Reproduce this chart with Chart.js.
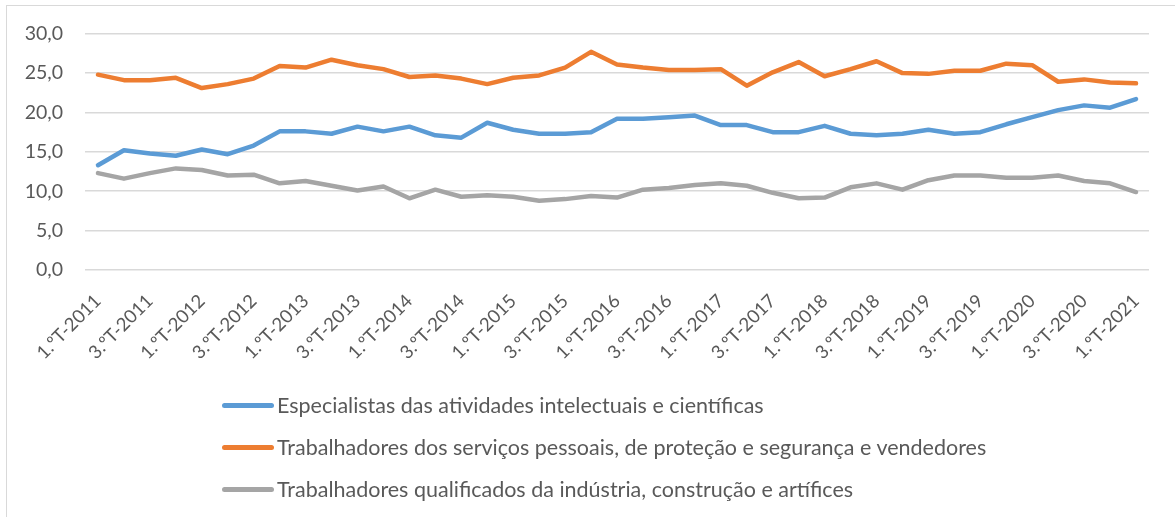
<!DOCTYPE html>
<html lang="pt">
<head>
<meta charset="utf-8">
<script src="https://cdn.jsdelivr.net/npm/chart.js@4.4.1/dist/chart.umd.min.js"></script>
<style>
  html, body { margin: 0; padding: 0; background: #fff; overflow: hidden; }
  body { width: 1175px; height: 517px; position: relative; font-family: Lato, "Open Sans", sans-serif; }
  .frame { position: absolute; left: 6px; top: 5px; width: 1200px; height: 540px; border: 1px solid #d9d9d9; }
  #wrap { position: absolute; left: 0; top: 0; width: 1175px; height: 390px; }
  .legend { position: absolute; left: 222px; top: 384px; }
  .legend-item { height: 42px; display: flex; align-items: center; }
  .legend-line { width: 52px; height: 5px; border-radius: 3px; margin-right: 3px; }
  .legend-text { font-size: 21.5px; color: #595959; white-space: nowrap; }
</style>
</head>
<body>
<div class="frame"></div>
<div id="wrap"><canvas id="chart-ocupacoes"></canvas></div>
<div class="legend" id="legend"></div>

<script>
// ============================================================
// Dados - percentagem por grupo profissional (trimestral)
// ============================================================

const trimestres = [
  "1.ºT-2011", "2.ºT-2011", "3.ºT-2011", "4.ºT-2011",
  "1.ºT-2012", "2.ºT-2012", "3.ºT-2012", "4.ºT-2012",
  "1.ºT-2013", "2.ºT-2013", "3.ºT-2013", "4.ºT-2013",
  "1.ºT-2014", "2.ºT-2014", "3.ºT-2014", "4.ºT-2014",
  "1.ºT-2015", "2.ºT-2015", "3.ºT-2015", "4.ºT-2015",
  "1.ºT-2016", "2.ºT-2016", "3.ºT-2016", "4.ºT-2016",
  "1.ºT-2017", "2.ºT-2017", "3.ºT-2017", "4.ºT-2017",
  "1.ºT-2018", "2.ºT-2018", "3.ºT-2018", "4.ºT-2018",
  "1.ºT-2019", "2.ºT-2019", "3.ºT-2019", "4.ºT-2019",
  "1.ºT-2020", "2.ºT-2020", "3.ºT-2020", "4.ºT-2020",
  "1.ºT-2021",
];

const especialistas = [
  13.3, 15.2, 14.8, 14.5, 15.3, 14.7, 15.8, 17.6, 17.6, 17.3,
  18.2, 17.6, 18.2, 17.1, 16.8, 18.7, 17.8, 17.3, 17.3, 17.5,
  19.2, 19.2, 19.4, 19.6, 18.4, 18.4, 17.5, 17.5, 18.3, 17.3,
  17.1, 17.3, 17.8, 17.3, 17.5, 18.5, 19.4, 20.3, 20.9, 20.6,
  21.7,
];

const servicos = [
  24.8, 24.1, 24.1, 24.4, 23.1, 23.6, 24.3, 25.9, 25.7, 26.7,
  26.0, 25.5, 24.5, 24.7, 24.3, 23.6, 24.4, 24.7, 25.7, 27.7,
  26.1, 25.7, 25.4, 25.4, 25.5, 23.4, 25.1, 26.4, 24.6, 25.5,
  26.5, 25.0, 24.9, 25.3, 25.3, 26.2, 26.0, 23.9, 24.2, 23.8,
  23.7,
];

const industria = [
  12.3, 11.6, 12.3, 12.9, 12.7, 12.0, 12.1, 11.0, 11.3, 10.7,
  10.1, 10.6, 9.1, 10.2, 9.3, 9.5, 9.3, 8.8, 9.0, 9.4,
  9.2, 10.2, 10.4, 10.8, 11.0, 10.7, 9.8, 9.1, 9.2, 10.5,
  11.0, 10.2, 11.4, 12.0, 12.0, 11.7, 11.7, 12.0, 11.3, 11.0,
  9.9,
];

const nomesSeries = [
  "Especialistas das atividades intelectuais e científicas",
  "Trabalhadores dos serviços pessoais, de proteção e segurança e vendedores",
  "Trabalhadores qualificados da indústria, construção e artífices",
];

const coresSeries = ["#5b9bd5", "#ed7d31", "#a5a5a5"];

const ticksY = [0, 5, 10, 15, 20, 25, 30];

// ============================================================

function buildDataset(label, data, color) {
  return {
    label: label,
    data: data,
    borderColor: color,
    backgroundColor: color,
    borderWidth: 4.5,
    borderCapStyle: "round",
    borderJoinStyle: "round",
    pointRadius: 0,
    tension: 0,
    fill: false,
  };
}

function initChart() {
  const ctx = document.getElementById("chart-ocupacoes");
  const textColor = "#595959";

  new Chart(ctx, {
    type: "line",
    data: {
      labels: trimestres,
      datasets: [
        buildDataset(nomesSeries[0], especialistas, coresSeries[0]),
        buildDataset(nomesSeries[1], servicos, coresSeries[1]),
        buildDataset(nomesSeries[2], industria, coresSeries[2]),
      ],
    },
    options: {
      responsive: true,
      maintainAspectRatio: false,
      animation: false,
      layout: {
        padding: { left: 24, right: 26, top: 32, bottom: 0 },
      },
      plugins: {
        legend: { display: false },
        tooltip: { enabled: false },
      },
      scales: {
        x: {
          offset: true,
          grid: { display: false, drawTicks: false },
          border: { display: false },
          afterFit: (axis) => {
            axis.height = 120;
          },
          ticks: {
            autoSkip: false,
            maxRotation: 45,
            minRotation: 45,
            padding: 20,
            color: textColor,
            font: { family: "Lato", size: 18.5 },
            callback: function (value, index) {
              return index % 2 === 0 ? trimestres[index] : "";
            },
          },
        },
        y: {
          min: ticksY[0],
          max: ticksY[ticksY.length - 1],
          afterFit: (axis) => {
            axis.width = 61;
          },
          afterBuildTicks: (axis) => {
            axis.ticks = ticksY.map((v) => ({ value: v }));
          },
          grid: {
            color: "#d9d9d9",
            lineWidth: 1.5,
            drawTicks: false,
          },
          border: { display: false },
          ticks: {
            padding: 22,
            color: textColor,
            font: { family: "Lato", size: 19.5 },
            callback: (value) => value.toFixed(1).replace(".", ","),
          },
        },
      },
    },
  });
}

function buildLegend() {
  const legend = document.getElementById("legend");
  legend.innerHTML = nomesSeries
    .map((nome, i) => {
      return `
      <div class="legend-item">
        <div class="legend-line" style="background:${coresSeries[i]}"></div>
        <span class="legend-text">${nome}</span>
      </div>
    `;
    })
    .join("");
}

initChart();
buildLegend();
</script>
</body>
</html>
